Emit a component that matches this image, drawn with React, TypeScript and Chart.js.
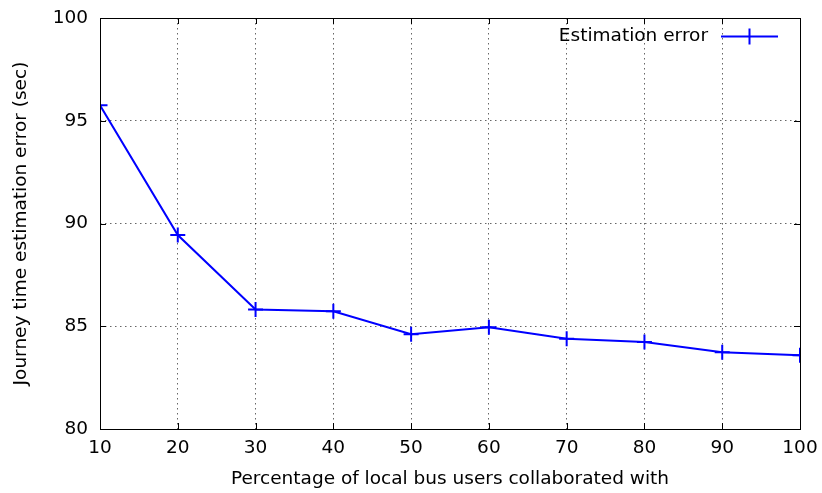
import React, { useEffect, useRef } from "react";
import { Chart, registerables } from "chart.js";

Chart.register(...registerables);

const xValues = [10, 20, 30, 40, 50, 60, 70, 80, 90, 100];
const errorValues = [95.75, 89.44, 85.82, 85.73, 84.61, 84.95, 84.39, 84.23, 83.73, 83.59];
const seriesLabel = "Estimation error";
const xTitle = "Percentage of local bus users collaborated with";
const yTitle = "Journey time estimation error (sec)";

const FONT = "'DejaVu Sans', sans-serif";
const FS = 18.5;
const BLUE = "#0000ff";

const framePlugin = {
  id: "frame",
  afterDraw(chart: any) {
    const { ctx, chartArea } = chart;
    const { left, right, top, bottom } = chartArea;
    ctx.save();
    ctx.strokeStyle = "#000";
    ctx.lineWidth = 1;
    ctx.setLineDash([]);
    ctx.strokeRect(left + 0.5, top + 0.5, right - left, bottom - top);
    const tl = 6;
    const xs = chart.scales.x;
    const ys = chart.scales.y;
    ctx.beginPath();
    xs.ticks.forEach((t: any) => {
      const px = Math.round(xs.getPixelForValue(t.value)) + 0.5;
      ctx.moveTo(px, bottom);
      ctx.lineTo(px, bottom - tl);
      ctx.moveTo(px, top);
      ctx.lineTo(px, top + tl);
    });
    ys.ticks.forEach((t: any) => {
      const py = Math.round(ys.getPixelForValue(t.value)) + 0.5;
      ctx.moveTo(left, py);
      ctx.lineTo(left + tl, py);
      ctx.moveTo(right, py);
      ctx.lineTo(right - tl, py);
    });
    ctx.stroke();

    // legend
    const ds = chart.data.datasets[0];
    const ly = 36.5;
    ctx.fillStyle = "#000";
    ctx.font = `${FS}px ${FONT}`;
    ctx.textAlign = "right";
    ctx.textBaseline = "middle";
    ctx.fillText(ds.label, 708, ly);
    ctx.strokeStyle = BLUE;
    ctx.lineWidth = 2;
    ctx.beginPath();
    ctx.moveTo(721, ly);
    ctx.lineTo(778, ly);
    ctx.moveTo(749.5, ly - 8);
    ctx.lineTo(749.5, ly + 8);
    ctx.stroke();
    ctx.restore();
  },
};

export default function App() {
  const ref = useRef<HTMLCanvasElement | null>(null);
  useEffect(() => {
    if (!ref.current) return;
    const chart = new Chart(ref.current, {
      type: "line",
      data: {
        datasets: [
          {
            label: seriesLabel,
            data: xValues.map((x, i) => ({ x, y: errorValues[i] })),
            borderColor: BLUE,
            backgroundColor: BLUE,
            borderWidth: 2,
            pointStyle: "cross",
            pointRadius: 7.5,
            pointBorderWidth: 2,
            pointBorderColor: BLUE,
            tension: 0,
            fill: false,
          },
        ],
      },
      options: {
        responsive: false,
        animation: false,
        layout: { padding: { top: 18, right: 22, left: 0, bottom: 0 } },
        plugins: { legend: { display: false }, tooltip: { enabled: false } },
        scales: {
          x: {
            type: "linear",
            min: 10,
            max: 100,
            afterFit: (s: any) => {
              s.height = 64;
              s.paddingLeft = 0;
              s.paddingRight = 0;
            },
            ticks: {
              stepSize: 10,
              color: "#000",
              padding: 8,
              maxRotation: 0,
              font: { family: FONT, size: FS },
            },
            grid: { color: "rgba(0,0,0,0.6)", lineWidth: 1, drawTicks: false },
            border: { display: false, dash: [1.5, 3.5] },
            title: {
              display: true,
              text: xTitle,
              color: "#000",
              font: { family: FONT, size: FS },
              padding: { top: 0, bottom: 3 },
            },
          },
          y: {
            type: "linear",
            min: 80,
            max: 100,
            afterFit: (s: any) => {
              s.width = 100;
              s.paddingTop = 0;
              s.paddingBottom = 0;
            },
            ticks: {
              stepSize: 5,
              color: "#000",
              padding: 12,
              font: { family: FONT, size: FS },
            },
            grid: { color: "rgba(0,0,0,0.6)", lineWidth: 1, drawTicks: false },
            border: { display: false, dash: [1.5, 3.5] },
            title: {
              display: true,
              text: yTitle,
              color: "#000",
              font: { family: FONT, size: FS },
              padding: { top: 10, bottom: 0 },
            },
          },
        },
      },
      plugins: [framePlugin],
    } as any);
    return () => chart.destroy();
  }, []);
  return (
    <div style={{ position: "fixed", left: 0, top: 0, width: 822, height: 493, background: "#fff" }}>
      <canvas ref={ref} width={822} height={493} />
    </div>
  );
}
